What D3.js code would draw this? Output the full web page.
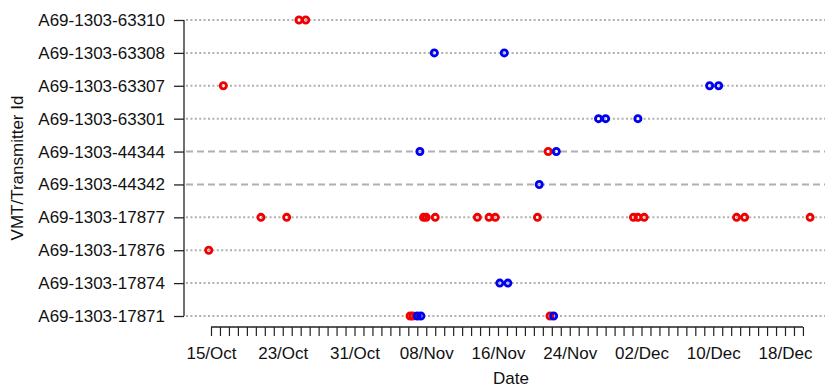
<!DOCTYPE html>
<html><head><meta charset="utf-8">
<script src="https://cdn.jsdelivr.net/npm/d3@7"></script>
<style>html,body{margin:0;padding:0;background:#fff;} svg{display:block;}</style>
</head><body>
<svg id="c" width="825" height="389"></svg>
<script>
// ---- data ----
const transmitters = ["A69-1303-63310","A69-1303-63308","A69-1303-63307","A69-1303-63301","A69-1303-44344","A69-1303-44342","A69-1303-17877","A69-1303-17876","A69-1303-17874","A69-1303-17871"];
const dashedRows = ["A69-1303-44344","A69-1303-44342"];
const tickLabels = ["15/Oct","23/Oct","31/Oct","08/Nov","16/Nov","24/Nov","02/Dec","10/Dec","18/Dec"];
const detId = [
 "A69-1303-63310","A69-1303-63310",
 "A69-1303-63308","A69-1303-63308",
 "A69-1303-63307","A69-1303-63307","A69-1303-63307",
 "A69-1303-63301","A69-1303-63301","A69-1303-63301",
 "A69-1303-44344","A69-1303-44344","A69-1303-44344",
 "A69-1303-44342",
 "A69-1303-17877","A69-1303-17877","A69-1303-17877","A69-1303-17877","A69-1303-17877","A69-1303-17877","A69-1303-17877","A69-1303-17877","A69-1303-17877","A69-1303-17877","A69-1303-17877","A69-1303-17877","A69-1303-17877","A69-1303-17877","A69-1303-17877",
 "A69-1303-17876",
 "A69-1303-17874","A69-1303-17874",
 "A69-1303-17871","A69-1303-17871","A69-1303-17871","A69-1303-17871","A69-1303-17871","A69-1303-17871"
];
const detTime = [
 "2013-10-24T19:30","2013-10-25T13:30",
 "2013-11-08T21:36","2013-11-16T16:48",
 "2013-10-16T09:00","2013-12-09T14:24","2013-12-10T14:24",
 "2013-11-27T05:00","2013-11-28T00:00","2013-12-01T14:24",
 "2013-11-07T07:00","2013-11-21T14:24","2013-11-22T12:00",
 "2013-11-20T14:24",
 "2013-10-20T13:40","2013-10-23T10:30","2013-11-07T16:48","2013-11-08T00:00","2013-11-09T00:00","2013-11-13T16:48","2013-11-15T00:00","2013-11-15T16:48","2013-11-20T09:36","2013-12-01T02:24","2013-12-01T14:24","2013-12-02T07:12","2013-12-12T14:24","2013-12-13T12:00","2013-12-20T19:12",
 "2013-10-14T18:00",
 "2013-11-16T04:48","2013-11-17T02:24",
 "2013-11-06T04:48","2013-11-06T12:00","2013-11-07T00:00","2013-11-07T09:36","2013-11-21T19:12","2013-11-22T04:48"
];
const detSite = [
 "A","A",
 "B","B",
 "A","B","B",
 "B","B","B",
 "B","A","B",
 "B",
 "A","A","A","A","A","A","A","A","A","A","A","A","A","A","A",
 "A",
 "B","B",
 "A","A","B","B","A","B"
];
const sites = ["A","B"];

// ---- chart ----
const svg = d3.select("#c");
const font = "'Liberation Sans', Arial, sans-serif";
const fs = 17;
const parse = d3.timeParse("%Y-%m-%dT%H:%M");
const parseDay = d3.timeParse("%d/%b/%Y");

const x = d3.scaleTime()
  .domain([new Date(2013,9,15), new Date(2013,11,18)])
  .range([211, 785]);
const y = d3.scalePoint().domain(transmitters).range([20, 316]);
const color = d3.scaleOrdinal().domain(sites).range(["#f00000","#0000f0"]);

const plotL = 184, plotR = 840;

// grid lines
svg.append("g").selectAll("line").data(transmitters).join("line")
  .attr("x1", plotL + 2).attr("x2", plotR)
  .attr("y1", d => y(d)).attr("y2", d => y(d))
  .attr("stroke", "#b0b0b0")
  .attr("stroke-width", 2)
  .attr("stroke-dasharray", d => dashedRows.includes(d) ? "7,4" : "2,2.4");

// y axis
const yAxis = d3.axisLeft(y).tickSize(10).tickPadding(9);
const gy = svg.append("g").attr("transform", `translate(${plotL},0)`).call(yAxis);
gy.select(".domain").attr("d", `M0,${y(transmitters[0])}V${y(transmitters[transmitters.length-1])}`)
  .attr("stroke", "#222").attr("stroke-width", 1.3);
gy.selectAll(".tick line").attr("stroke", "#222").attr("stroke-width", 1.3);
gy.selectAll("text").attr("font-family", font).attr("font-size", fs).attr("fill", "#111");

// x axis: daily minor ticks, labels every 8 days
const tickStart = new Date(2013,9,15), tickEnd = new Date(2013,11,20);
const dayTicks = d3.timeDay.range(tickStart, d3.timeDay.offset(tickEnd, 1));
const labelTicks = tickLabels.map(s => parseDay(s + "/2013"));
const fmt = d3.timeFormat("%d/%b");
const xAxisMinor = d3.axisBottom(x).tickValues(dayTicks).tickSize(9).tickFormat("");
const gx = svg.append("g").attr("transform", "translate(0,327)").call(xAxisMinor);
gx.select(".domain").attr("d", `M${x(tickStart)},0H${x(tickEnd)}`).attr("stroke", "#222").attr("stroke-width", 1.3);
gx.selectAll(".tick line").attr("stroke", "#222").attr("stroke-width", 1.2);

const xAxisLab = d3.axisBottom(x).tickValues(labelTicks).tickSize(0).tickPadding(20).tickFormat(fmt);
const gx2 = svg.append("g").attr("transform", "translate(0,327)").call(xAxisLab);
gx2.select(".domain").remove();
gx2.selectAll("text").attr("font-family", font).attr("font-size", fs).attr("fill", "#111");

// axis titles
svg.append("text").attr("x", 511).attr("y", 384).attr("text-anchor", "middle")
  .attr("font-family", font).attr("font-size", fs).attr("fill", "#111").text("Date");
svg.append("text").attr("transform", "translate(23,168) rotate(-90)").attr("text-anchor", "middle")
  .attr("font-family", font).attr("font-size", fs).attr("fill", "#111").text("VMT/Transmitter Id");

// points
const pts = detId.map((id, i) => ({id, t: parse(detTime[i]), s: detSite[i]}));
svg.append("g").selectAll("circle").data(pts).join("circle")
  .attr("cx", d => x(d.t)).attr("cy", d => y(d.id)).attr("r", 3.1)
  .attr("fill", "none").attr("stroke", d => color(d.s)).attr("stroke-width", 2.8);
</script>
</body></html>
